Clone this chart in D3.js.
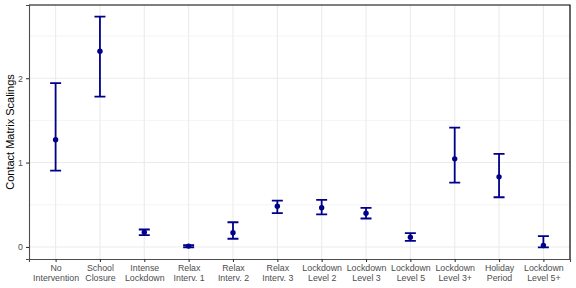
<!DOCTYPE html>
<html><head><meta charset="utf-8">
<script src="https://cdn.jsdelivr.net/npm/d3@7"></script>
<style>body{margin:0;background:#fff}svg{display:block;font-family:"Liberation Sans",Arial,sans-serif}</style>
</head><body><svg id="c" width="576" height="288"></svg>
<script>
const categories = ["No Intervention","School Closure","Intense Lockdown","Relax Interv. 1","Relax Interv. 2","Relax Interv. 3","Lockdown Level 2","Lockdown Level 3","Lockdown Level 5","Lockdown Level 3+","Holiday Period","Lockdown Level 5+"];
const labelLines = [["No","Intervention"],["School","Closure"],["Intense","Lockdown"],["Relax","Interv. 1"],["Relax","Interv. 2"],["Relax","Interv. 3"],["Lockdown","Level 2"],["Lockdown","Level 3"],["Lockdown","Level 5"],["Lockdown","Level 3+"],["Holiday","Period"],["Lockdown","Level 5+"]];
const means = [1.27, 2.32, 0.175, 0.01, 0.168, 0.483, 0.464, 0.40, 0.116, 1.044, 0.831, 0.018];
const lower = [0.905, 1.781, 0.14, -0.005, 0.097, 0.40, 0.385, 0.337, 0.073, 0.763, 0.589, -0.006];
const upper = [1.943, 2.731, 0.207, 0.02, 0.293, 0.55, 0.558, 0.464, 0.163, 1.414, 1.103, 0.128];
const yTicks = [0, 1, 2];
const yMinor = [0.5, 1.5, 2.5];

const svg = d3.select("#c");
const L = 29, R = 570, T = 5, B = 259;
const lo = d3.min(lower), hi = d3.max(upper), pad = (hi - lo) * 0.05;
const y = d3.scaleLinear().domain([lo - pad, hi + pad]).range([B, T]);
const x = d3.scalePoint().domain(categories).range([L, R]).padding(0.6);

// grid
svg.append("g").selectAll("line").data(yMinor).join("line")
  .attr("x1", L).attr("x2", R).attr("y1", d => y(d)).attr("y2", d => y(d))
  .attr("stroke", "#ebebeb").attr("stroke-width", 0.55);
svg.append("g").selectAll("line").data(yTicks).join("line")
  .attr("x1", L).attr("x2", R).attr("y1", d => y(d)).attr("y2", d => y(d))
  .attr("stroke", "#ebebeb").attr("stroke-width", 1.07);
svg.append("g").selectAll("line").data(categories).join("line")
  .attr("x1", d => x(d)).attr("x2", d => x(d)).attr("y1", T).attr("y2", B)
  .attr("stroke", "#ebebeb").attr("stroke-width", 1.07);

// border top/right
svg.append("path").attr("d", `M${L},${T}H${R}V${B}`).attr("fill", "none").attr("stroke", "#000").attr("stroke-width", 1.2);

// axes
const ya = svg.append("g").attr("transform", `translate(${L},0)`)
  .call(d3.axisLeft(y).tickValues(yTicks).tickFormat(d3.format("d")).tickSize(3).tickPadding(3));
const xa = svg.append("g").attr("transform", `translate(0,${B})`)
  .call(d3.axisBottom(x).tickSize(3).tickFormat(""));
[ya, xa].forEach(a => {
  a.select(".domain").attr("stroke", "#4d4d4d").attr("stroke-width", 1.1);
  a.selectAll(".tick line").attr("stroke", "#333").attr("stroke-width", 1.07);
});
ya.selectAll(".tick text").attr("fill", "#4d4d4d").attr("font-size", 8.8).attr("font-family", "Liberation Sans, Arial, sans-serif");
xa.selectAll(".tick").each(function(d, i) {
  const t = d3.select(this).append("text").attr("fill", "#4d4d4d").attr("font-size", 8.8)
    .attr("text-anchor", "middle").attr("font-family", "Liberation Sans, Arial, sans-serif");
  labelLines[i].forEach((s, j) => t.append("tspan").attr("x", 0).attr("y", 11.5 + j * 10).text(s));
});

svg.append("text").attr("transform", `translate(14,${(T + B) / 2}) rotate(-90)`)
  .attr("text-anchor", "middle").attr("font-size", 11).attr("fill", "#000").text("Contact Matrix Scalings");

// error bars
const col = "#00008B", hw = 5.5;
const g = svg.append("g");
categories.forEach((c, i) => {
  const cx = x(c);
  g.append("path").attr("d", `M${cx - hw},${y(upper[i])}H${cx + hw}M${cx},${y(upper[i])}V${y(lower[i])}M${cx - hw},${y(lower[i])}H${cx + hw}`)
    .attr("fill", "none").attr("stroke", col).attr("stroke-width", 1.8);
  g.append("circle").attr("cx", cx).attr("cy", y(means[i])).attr("r", 2.7).attr("fill", col);
});
</script></body></html>
